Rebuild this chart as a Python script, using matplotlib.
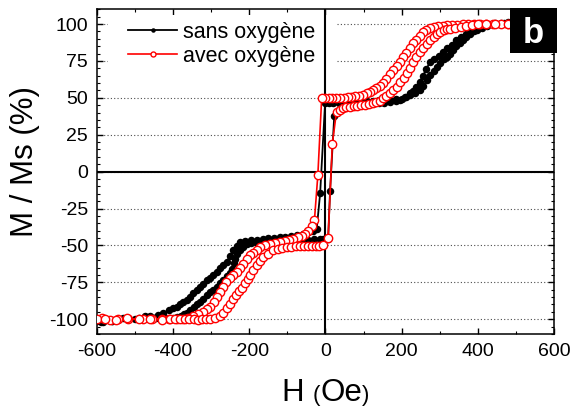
import matplotlib
matplotlib.use('Agg')
import matplotlib.pyplot as plt
from matplotlib.ticker import MultipleLocator
from matplotlib.patches import Rectangle
from matplotlib.offsetbox import TextArea, HPacker, AnchoredOffsetbox

# sans oxygene: descending branch (H decreasing), then ascending branch
h_sans_dn = [470, 445, 420, 400, 390, 379, 368, 356, 344, 332,
             320, 309, 298, 286, 274, 265, 256, 248, 239, 230,
             222, 212, 200, 185, 170, 155, 140, 125, 110, 95,
             80, 65, 50, 35, 20, 8, -1, -14, -23, -32,
             -45, -60, -75, -90, -105, -120, -135, -150, -165, -180,
             -195, -210, -224, -233, -242, -251, -259, -268, -277, -286,
             -295, -304, -312, -321, -330, -338, -347, -356, -364, -373,
             -382, -391, -400, -412, -426, -440, -460, -490, -520, -560,
             -590]
m_sans_dn = [101, 100.5, 99.5, 98, 97, 95.7, 93.5, 91, 89, 86,
             83.5, 81, 78.5, 76.5, 74, 69.5, 65, 61, 57.5, 54.5,
             52, 50.5, 49.5, 49, 48.8, 48.5, 48.3, 48, 47.8, 47.6,
             47.4, 47.2, 47, 46.8, 46.6, 46.5, 46.4, -14.8, -38.8, -40,
             -41, -42, -43, -43.5, -44, -44.5, -45, -45.3, -45.6, -46,
             -46.5, -47.2, -48, -50.5, -53.4, -57.5, -61, -63.5, -65.5, -68,
             -70, -71.8, -73.5, -76, -78, -80, -82.5, -84.8, -87, -88.5,
             -90, -91.4, -92.5, -94, -96, -97, -98, -99, -100, -101,
             -102]
h_sans_up = [-600, -583, -560, -531, -500, -473, -445, -420, -400, -390,
             -380, -372, -364, -355, -346, -338, -330, -321, -312, -303,
             -295, -286, -277, -268, -259, -252, -246, -241, -237, -231,
             -224, -216, -207, -195, -180, -165, -150, -135, -120, -105,
             -90, -75, -60, -45, -30, -15, -6, 7, 12, 23,
             29, 40, 52, 64, 80, 95, 110, 125, 140, 155,
             170, 185, 196, 208, 222, 235, 248, 257, 266, 275,
             284, 292, 301, 310, 318, 327, 336, 344, 352, 361,
             370, 380, 390, 397, 410, 425, 440, 460, 480]
m_sans_up = [-101.5, -102, -101, -99.5, -100, -97.5, -99.5, -99.2, -99, -98.2,
             -97.5, -96.5, -96, -94, -92, -90, -88, -86, -83.6, -81.5,
             -80, -78, -75.5, -73.5, -71, -68.5, -65.7, -62, -59, -56,
             -53.4, -51, -49, -48.5, -48.2, -48, -47.8, -47.5, -47.2, -47,
             -46.7, -46.4, -46.2, -46, -45.8, -45.6, -45.5, -45.5, -13.4, 37.4,
             39.7, 42, 43.5, 44.5, 45, 45.5, 45.8, 46.2, 46.5, 46.8,
             47.2, 47.8, 48.6, 50.5, 53, 53.5, 55, 58, 62, 65.5,
             68.5, 71, 73.5, 76, 78, 80, 82.5, 85, 87, 89,
             91.5, 93.5, 95, 96, 97.5, 99, 100, 101, 101.5]

# avec oxygene
h_avec_dn = [480, 460, 440, 422, 405, 390, 375, 360, 345, 332,
             320, 308, 296, 285, 275, 265, 256, 247, 238, 230,
             221, 212, 204, 195, 187, 178, 169, 160, 151, 142,
             133, 124, 117, 108, 98, 88, 78, 68, 58, 48,
             38, 28, 18, 8, -2, -10, -20, -29, -36, -45,
             -53, -62, -72, -84, -95, -107, -120, -133, -146, -159,
             -172, -181, -190, -198, -207, -216, -224, -233, -242, -251,
             -260, -268, -277, -286, -294, -303, -312, -321, -334, -347,
             -360, -375, -390, -410, -430, -455, -480, -518, -545, -566,
             -587]
m_avec_dn = [100.3, 100, 100, 100, 100, 99.8, 99.8, 99.7, 99.6, 99.5,
             99.3, 99, 98.7, 98, 97, 96, 94.5, 92, 89.5, 87,
             84, 80.5, 77.7, 74.5, 71.5, 69, 66, 63, 60, 58,
             56.5, 55, 54, 53, 52, 51.3, 51, 50.6, 50.4, 50.2,
             50, 50, 49.8, 49.8, 49.7, 49.7, -2.3, -33, -36.5, -40,
             -42, -43.5, -44.5, -45.5, -46.5, -47.3, -48, -48.6, -49, -50,
             -51, -53, -54.8, -56.7, -59.5, -62.3, -65, -68, -70, -72.4,
             -75, -78, -81.5, -84.7, -88, -91.4, -93.2, -94.8, -96.5, -98,
             -99, -99.6, -100, -100, -100, -100, -100, -99.8, -100, -100.4,
             -99]
h_avec_up = [-600, -580, -550, -520, -490, -460, -430, -408, -395, -382,
             -370, -358, -346, -335, -324, -313, -303, -290, -277, -268,
             -259, -250, -242, -235, -228, -220, -211, -204, -198, -190,
             -181, -172, -163, -150, -137, -125, -113, -102, -90, -78,
             -66, -56, -46, -36, -26, -16, -6, 7, 18, 29,
             37, 46, 55, 64, 74, 84, 94, 104, 114, 124,
             134, 143, 151, 160, 169, 178, 187, 196, 205, 213,
             222, 230, 239, 248, 257, 266, 275, 284, 292, 301,
             310, 319, 327, 340, 355, 370, 385, 400, 422, 445,
             480]
m_avec_up = [-100, -100, -100.5, -99.5, -100, -100, -100.2, -100, -100, -100,
             -100, -100, -100, -100.2, -100, -100, -100, -99.5, -98, -95.5,
             -92.6, -89.5, -86, -83.5, -81, -79, -75.5, -72.5, -70, -66.5,
             -63.5, -60.5, -57.8, -55.5, -53.4, -52.4, -51.6, -51, -50.8, -50.6,
             -50.5, -50.4, -50.4, -50.3, -50.2, -50.1, -50, -45, 18.8, 40.7,
             42, 43, 43.5, 44, 44.4, 44.8, 45.1, 45.4, 45.8, 46.3,
             47, 48, 49.7, 51.5, 53.5, 55.5, 57.5, 60.5, 63.5, 66.5,
             70.5, 74, 77.7, 81, 84, 86.7, 89.3, 91.5, 93.5, 94.8,
             95.8, 96.5, 96.8, 97.5, 98.3, 99, 99.4, 99.7, 100, 100,
             100]

plt.rcParams['font.family'] = ['Liberation Sans', 'DejaVu Sans']
plt.rcParams['axes.unicode_minus'] = False

fig = plt.figure(figsize=(5.8, 4.07), dpi=100)
ax = fig.add_axes([0.1672, 0.1794, 0.7879, 0.7978])
ax.set_axisbelow(True)

ax.plot(h_sans_dn + h_sans_up, m_sans_dn + m_sans_up, '-o', color='black',
        lw=1.3, ms=5.4, mew=0, label='sans oxygène', zorder=3)
ax.plot(h_avec_dn + h_avec_up, m_avec_dn + m_avec_up, '-o', color='red',
        mfc='white', mec='red', lw=1.2, ms=6, mew=1.0,
        label='avec oxygène', zorder=4)

ax.axhline(0, color='black', lw=1.5, zorder=2)
ax.axvline(0, color='black', lw=1.5, zorder=2)

ax.set_xlim(-600, 600)
ax.set_ylim(-110, 110)
ax.xaxis.set_major_locator(MultipleLocator(200))
ax.xaxis.set_minor_locator(MultipleLocator(100))
ax.yaxis.set_major_locator(MultipleLocator(25))
ax.yaxis.set_minor_locator(MultipleLocator(5))
ax.tick_params(which='both', direction='in', top=True, right=True,
               labelsize=14, pad=6.5)
ax.tick_params(which='major', length=4.5, width=1)
ax.tick_params(which='minor', length=2.2, width=0.8)
for sp in ax.spines.values():
    sp.set_linewidth(1.1)
ax.yaxis.grid(True, linestyle=(0, (1, 2)), color='0.3', lw=0.8)

# white patch behind the legend hides the grid there
ax.add_patch(Rectangle((0.024, 0.798), 0.499, 0.184, transform=ax.transAxes,
                       facecolor='white', edgecolor='none', zorder=1))
ax.legend(loc='upper left', bbox_to_anchor=(0.0678, 0.962), frameon=False,
          borderpad=0, borderaxespad=0, fontsize=15.5, handlelength=2.28,
          handletextpad=0.28, labelspacing=0.15, markerscale=0.6)

ax.set_ylabel('M / Ms (%)', fontsize=22.5)
ax.yaxis.set_label_coords(-0.1247, 0.53)

# x label with small parentheses
parts = [TextArea('H ', textprops=dict(size=22.5)),
         TextArea('(', textprops=dict(size=16)),
         TextArea('Oe', textprops=dict(size=22.5)),
         TextArea(')', textprops=dict(size=16))]
xlab = AnchoredOffsetbox(loc='lower center',
                         child=HPacker(children=parts, align='baseline', pad=0, sep=0),
                         pad=0, borderpad=0, frameon=False,
                         bbox_to_anchor=(325.5 / 580, -0.003),
                         bbox_transform=fig.transFigure)
fig.add_artist(xlab)

# panel letter
fig.add_artist(Rectangle((510 / 580, 1 - 53 / 407), 47 / 580, 45 / 407,
                         transform=fig.transFigure, facecolor='black',
                         edgecolor='none', zorder=5))
fig.text(533 / 580, 1 - 43 / 407, 'b', color='white', fontsize=25,
         fontweight='bold', ha='center', va='baseline', zorder=6)

fig.savefig('out.png', dpi=100)
